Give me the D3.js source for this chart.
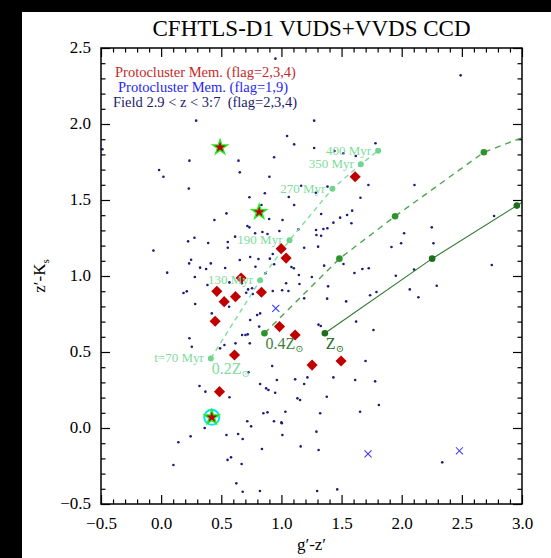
<!DOCTYPE html>
<html>
<head>
<meta charset="utf-8">
<script src="https://cdn.jsdelivr.net/npm/d3@7"></script>
<style>
  body { margin: 0; background: #fff; }
  svg text { font-family: "Liberation Serif", "DejaVu Serif", serif !important; }
</style>
</head>
<body>
<div id="chart"></div>
<script>
// field galaxies 2.9 < z < 3.7
const fieldX = [0.291,1.272,1.047,1.106,1.272,1.441,1.516,1.618,1.782,0.235,0.643,0.939,-0.017,0.019,0.654,0.9,1.723,0.23,1.164,0.862,
  0.734,1.061,1.657,0.834,1.106,0.443,0.543,0.898,1.009,1.33,1.588,1.488,1.546,1.432,1.141,0.717,0.734,0.781,0.615,0.554,
  0.554,0.842,0.884,0.983,0.224,0.277,0.391,1.288,1.349,1.382,1.291,1.33,1.189,1.305,-0.064,0.249,0.233,0.532,0.324,0.374,
  0.413,0.654,0.74,0.809,0.904,0.928,0.939,0.867,0.784,1.083,1.103,1.145,1.253,1.388,1.516,1.607,1.673,1.726,0.05,0.28,
  0.385,0.568,0.723,0.756,0.928,1.006,1.058,1.15,1.38,1.79,1.737,0.186,0.213,-0.488,0.95,2.49,
  0.283,0.421,0.565,0.671,0.707,0.762,0.798,0.823,0.74,0.815,0.673,0.701,0.72,0.618,0.737,0.526,0.49,0.235,0.255,0.319,
  0.368,0.568,0.726,0.823,0.873,0.892,0.962,0.923,0.948,0.85,0.884,1.039,1.114,1.133,1.155,1.189,1.216,1.308,1.327,1.621,
  1.765,1.699,1.613,1.377,1.432,1.322,1.654,1.81,1.779,1.033,1.003,
  1.383,1.286,2.106,1.582,1.355,1.189,1.538,1.951,1.915,1.995,2.02,2.25,2.264,2.103,2.067,2.139,2.291,2.768,2.749,
  0.143,0.245,0.362,0.102,0.543,0.64,0.678,0.552,0.581,0.669,0.625,0.678,0.821,0.838,0.716,0.748,0.938,1.0,1.008,1.16,
  1.291,1.309,1.297,1.464,2.337];
const fieldY = [2.022,2.022,1.921,1.866,1.842,1.822,1.807,1.789,1.873,1.759,1.759,1.781,1.697,1.653,1.682,1.653,1.599,1.575,1.594,1.544,
  1.518,1.52,1.515,1.467,1.467,1.368,1.412,1.375,1.368,1.408,1.43,1.384,1.401,1.351,1.307,1.329,1.32,1.281,1.259,1.224,
  1.186,1.289,1.276,1.296,1.228,1.252,1.217,1.303,1.309,1.314,1.27,1.265,1.186,1.193,1.167,1.107,1.083,1.053,1.055,1.046,
  1.083,1.105,1.125,1.112,1.114,1.145,1.077,1.018,1.061,1.059,1.051,1.007,0.993,0.932,1.079,1.02,1.046,1.051,1.022,0.993,
  0.941,0.958,0.912,0.919,0.901,0.906,0.901,0.947,0.851,0.895,0.873,0.888,0.899,1.834,2.43,2.32,
  0.816,0.754,0.798,0.952,0.89,0.882,0.743,0.754,0.711,0.667,0.612,0.612,0.616,0.557,0.557,0.546,0.524,0.59,0.535,0.276,
  0.239,0.202,0.366,0.289,0.261,0.25,0.316,0.408,0.232,0.097,0.103,0.952,0.32,0.195,0.184,0.289,0.333,0.68,0.671,0.7,
  0.645,0.441,0.316,0.206,0.333,0.097,0.107,0.151,0.307,0.107,0.031,
  1.588,1.548,1.599,1.347,1.068,0.853,0.833,1.002,1.191,1.215,1.281,1.32,1.215,1.042,0.912,0.86,0.936,1.395,1.072,
  -0.094,-0.055,0.0,-0.243,-0.046,-0.039,-0.072,-0.21,-0.193,-0.237,-0.364,-0.419,-0.414,-0.138,0.044,0.011,0.044,0.037,-0.046,-0.121,
  -0.024,-0.145,-0.414,-0.404,-0.226];

// protocluster members, flag = 2,3,4
const memX = [0.998,1.039,1.613,0.665,0.463,0.618,0.834,0.524,0.449,0.984,1.114,0.61,1.255,1.496,0.485];
const memY = [1.18,1.118,1.653,0.987,0.899,0.864,0.893,0.831,0.702,0.667,0.612,0.48,0.414,0.441,0.239];
// members marked with stars (last one circled)
const starX = [0.49,0.815,0.421];
const starY = [1.846,1.421,0.07];
// protocluster members, flag = 1,9
const flag19X = [0.953,1.72,2.48];
const flag19Y = [0.787,-0.17,-0.15];

// model tracks
const ages = ["t=70 Myr","130 Myr","190 Myr","270 Myr","350 Myr","400 Myr"];
const trk02X = [0.413,0.823,1.067,1.424,1.66,1.804];
const trk02Y = [0.458,0.972,1.235,1.574,1.735,1.824];
const trk04X = [0.859,1.482,1.945,2.683,3.3];
const trk04Y = [0.623,1.114,1.393,1.814,2.0];
const trkSunX = [1.361,2.253,2.957,3.4];
const trkSunY = [0.623,1.114,1.463,1.68];

const xMajor = [-0.5,0.0,0.5,1.0,1.5,2.0,2.5,3.0];
const yMajor = [-0.5,0.0,0.5,1.0,1.5,2.0,2.5];

const SERIF = "'Liberation Serif', 'DejaVu Serif', serif";
const W = 551, H = 558;
const margin = {top: 48, right: 29, bottom: 54, left: 101},
    width = W - margin.left - margin.right,
    height = H - margin.top - margin.bottom;

const root = d3.select("#chart").append("svg")
    .attr("width", W).attr("height", H);
root.append("rect").attr("width", W).attr("height", H).attr("fill", "#fff");
// black page edges
root.append("rect").attr("width", 22).attr("height", H).attr("fill", "#000");
root.append("rect").attr("width", W).attr("height", 12).attr("fill", "#000");

const svg = root.append("g")
    .attr("transform", `translate(${margin.left}, ${margin.top})`);

const x = d3.scaleLinear().domain([-0.5, 3.0]).range([0, width]);
const y = d3.scaleLinear().domain([-0.5, 2.5]).range([height, 0]);

const xMinor = d3.range(-0.5, 3.0001, 0.1).map(v => +v.toFixed(1)).filter(v => !xMajor.includes(v));
const yMinor = d3.range(-0.5, 2.5001, 0.1).map(v => +v.toFixed(1)).filter(v => !yMajor.includes(v));
const fmt = d3.format(".1f");

function ax(fn, scale, vals, len, tx, label, pad) {
  const g = svg.append("g").attr("transform", tx)
    .call(fn(scale).tickValues(vals).tickSize(-len).tickPadding(pad || 3)
      .tickFormat(label ? fmt : ""));
  g.attr("font-family", null).attr("font-size", null);
  g.select(".domain").remove();
  g.selectAll("line").attr("stroke", "#000").attr("stroke-width", 1.2);
  g.selectAll("text").style("font-size", "17px").style("font-family", SERIF)
    .attr("fill", "#000");
  return g;
}
ax(d3.axisBottom, x, xMajor, 9, `translate(0,${height})`, true, 13);
ax(d3.axisBottom, x, xMinor, 4.5, `translate(0,${height})`, false);
ax(d3.axisTop, x, xMajor, 9, "translate(0,0)", false);
ax(d3.axisTop, x, xMinor, 4.5, "translate(0,0)", false);
ax(d3.axisLeft, y, yMajor, 9, "translate(0,0)", true, 10)
  .selectAll("text").attr("dy", "0.25em");
ax(d3.axisLeft, y, yMinor, 4.5, "translate(0,0)", false);
ax(d3.axisRight, y, yMajor, 9, `translate(${width},0)`, false);
ax(d3.axisRight, y, yMinor, 4.5, `translate(${width},0)`, false);

svg.append("clipPath").attr("id", "clip")
  .append("rect").attr("width", width).attr("height", height);
const plot = svg.append("g").attr("clip-path", "url(#clip)");

// field galaxies
plot.selectAll(".field")
  .data(fieldX.map((v, i) => [v, fieldY[i]]))
  .join("circle")
    .attr("cx", d => x(d[0]))
    .attr("cy", d => y(d[1]))
    .attr("r", 1.3)
    .attr("fill", "#1b1b7d");

// tracks
const line = d3.line().x(d => x(d[0])).y(d => y(d[1]));
const t02 = trk02X.map((v, i) => [v, trk02Y[i]]);
const t04 = trk04X.map((v, i) => [v, trk04Y[i]]);
const tSun = trkSunX.map((v, i) => [v, trkSunY[i]]);

plot.append("path").datum(t02).attr("d", line)
  .attr("fill", "none").attr("stroke", "#7fdc9c").attr("stroke-width", 1.4)
  .attr("stroke-dasharray", "5,4");
plot.append("path").datum(t04).attr("d", line)
  .attr("fill", "none").attr("stroke", "#4ea64e").attr("stroke-width", 1.4)
  .attr("stroke-dasharray", "6,5");
plot.append("path").datum(tSun).attr("d", line)
  .attr("fill", "none").attr("stroke", "#2f7a2f").attr("stroke-width", 1.1);

plot.selectAll(".p02").data(t02).join("circle")
  .attr("cx", d => x(d[0])).attr("cy", d => y(d[1])).attr("r", 3)
  .attr("fill", "#6fd58e");
plot.selectAll(".p04").data(t04).join("circle")
  .attr("cx", d => x(d[0])).attr("cy", d => y(d[1])).attr("r", 3.3)
  .attr("fill", "#2e922e");
plot.selectAll(".pSun").data(tSun).join("circle")
  .attr("cx", d => x(d[0])).attr("cy", d => y(d[1])).attr("r", 3.3)
  .attr("fill", "#1e6e1e");

// age labels
svg.selectAll(".age").data(t02).join("text")
  .attr("x", d => x(d[0]) - 7)
  .attr("y", d => y(d[1]) + 4)
  .attr("text-anchor", "end")
  .style("font-size", "13px")
  .attr("fill", "#7fdc9c")
  .text((d, i) => ages[i]);

// metallicity labels
function zLabel(pt, pre, color) {
  const t = svg.append("text")
    .attr("x", x(pt[0]) + 1).attr("y", y(pt[1]) + 16)
    .style("font-size", "16px").attr("fill", color);
  t.append("tspan").text(pre + "Z");
  t.append("tspan").style("font-size", "10px").attr("dy", 3).text("\u2299");
}
zLabel(t02[0], "0.2", "#7fdc9c");
zLabel(t04[0], "0.4", "#3d7f3d");
zLabel(tSun[0], "", "#1e6e1e");

// protocluster members
plot.selectAll(".mem").data(memX.map((v, i) => [v, memY[i]])).join("path")
  .attr("transform", d => `translate(${x(d[0])},${y(d[1])}) rotate(45)`)
  .attr("d", d3.symbol(d3.symbolSquare, 62))
  .attr("fill", "#c00000");

plot.append("circle")
  .attr("cx", x(starX[2])).attr("cy", y(starY[2])).attr("r", 7.5)
  .attr("fill", "none").attr("stroke", "#00e8f0").attr("stroke-width", 2);
plot.selectAll(".star").data(starX.map((v, i) => [v, starY[i]])).join("path")
  .attr("transform", d => `translate(${x(d[0])},${y(d[1])})`)
  .attr("d", d3.symbol(d3.symbolStar, 70))
  .attr("fill", "#c00000").attr("stroke", "#22ee22").attr("stroke-width", 1.3);

plot.selectAll(".f19").data(flag19X.map((v, i) => [v, flag19Y[i]])).join("path")
  .attr("transform", d => `translate(${x(d[0])},${y(d[1])}) rotate(45)`)
  .attr("d", "M-5,0H5M0,-5V5")
  .attr("fill", "none").attr("stroke", "#3333ff").attr("stroke-width", 1);

// frame
svg.append("rect").attr("width", width).attr("height", height)
  .attr("fill", "none").attr("stroke", "#000").attr("stroke-width", 1.5);

// legend
const legend = [
  {text: "Protocluster Mem. (flag=2,3,4)", color: "#c42a2a", dx: 14},
  {text: "Protocluster Mem. (flag=1,9)", color: "#2626f0", dx: 17},
  {text: "Field 2.9 < z < 3:7  (flag=2,3,4)", color: "#1b1b6b", dx: 12}
];
svg.selectAll(".leg").data(legend).join("text")
  .attr("x", d => d.dx).attr("y", (d, i) => 29 + i * 15)
  .style("font-size", "14.5px").attr("fill", d => d.color)
  .style("white-space", "pre")
  .text(d => d.text);

// title and axis titles
root.append("text")
  .attr("x", margin.left + width / 2).attr("y", 36)
  .attr("text-anchor", "middle").style("font-size", "23px")
  .text("CFHTLS-D1 VUDS+VVDS CCD");

root.append("text")
  .attr("x", margin.left + width / 2).attr("y", 550)
  .attr("text-anchor", "middle").style("font-size", "17px")
  .text("g\u2032-z\u2032");

const yt = root.append("text")
  .attr("transform", `translate(45, ${margin.top + height / 2}) rotate(-90)`)
  .attr("text-anchor", "middle").style("font-size", "17px");
yt.append("tspan").text("z\u2032-K");
yt.append("tspan").style("font-size", "11px").attr("dy", 4).text("s");
</script>
</body>
</html>
